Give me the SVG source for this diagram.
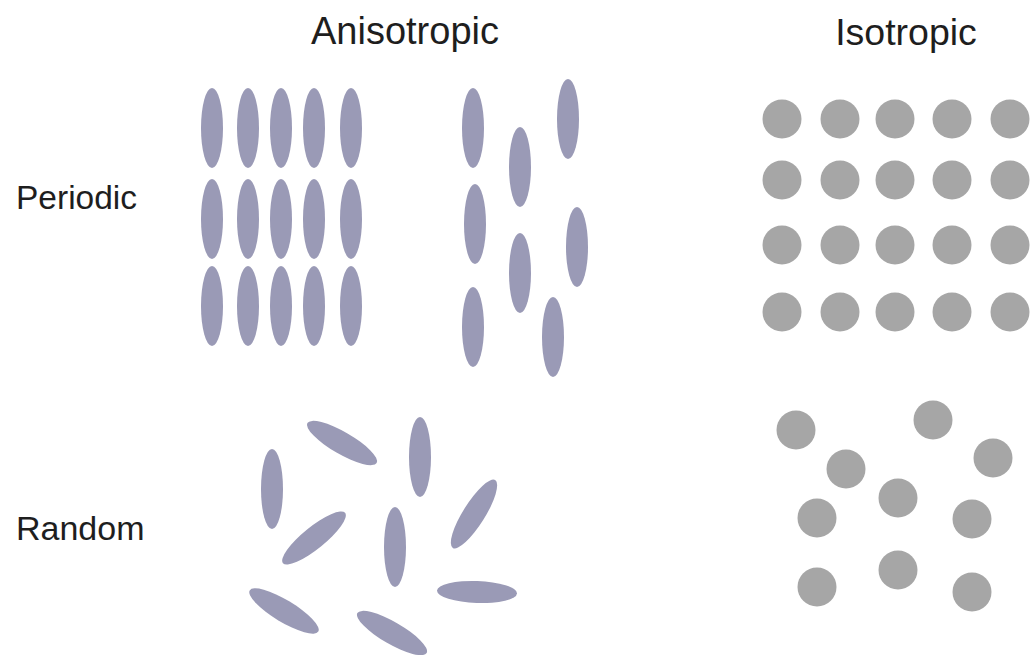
<svg xmlns="http://www.w3.org/2000/svg" width="1030" height="655" viewBox="0 0 1030 655">
<style>
.lbl{font-family:"Liberation Sans",Arial,sans-serif;fill:#1e1e1e}
.rod{fill:#9a9ab6}
.dot{fill:#a6a6a6}
</style>
<defs>
<ellipse id="rod" cx="0" cy="0" rx="11" ry="40" class="rod"/>
<circle id="dot" cx="0" cy="0" r="19.5" class="dot"/>
</defs>
<rect width="1030" height="655" fill="#ffffff"/>
<g id="labels">
<text class="lbl" x="405" y="44" font-size="38" text-anchor="middle">Anisotropic</text>
<text class="lbl" x="906" y="45" font-size="37.5" text-anchor="middle">Isotropic</text>
<text class="lbl" x="16" y="209" font-size="33.5">Periodic</text>
<text class="lbl" x="16" y="540" font-size="34">Random</text>
</g>
<g id="aniso-periodic">
<use href="#rod" x="212" y="128"/><use href="#rod" x="248" y="128"/><use href="#rod" x="281" y="128"/><use href="#rod" x="314" y="128"/><use href="#rod" x="351" y="128"/>
<use href="#rod" x="212" y="219"/><use href="#rod" x="248" y="219"/><use href="#rod" x="281" y="219"/><use href="#rod" x="314" y="219"/><use href="#rod" x="351" y="219"/>
<use href="#rod" x="212" y="306"/><use href="#rod" x="248" y="306"/><use href="#rod" x="281" y="306"/><use href="#rod" x="314" y="306"/><use href="#rod" x="351" y="306"/>
</g>
<g id="aniso-shifted">
<use href="#rod" x="473" y="128"/><use href="#rod" x="520" y="167"/><use href="#rod" x="568" y="119"/>
<use href="#rod" x="475" y="224"/><use href="#rod" x="520" y="273"/><use href="#rod" x="577" y="247"/>
<use href="#rod" x="473" y="327"/><use href="#rod" x="553" y="337"/>
</g>
<g id="aniso-random">
<use href="#rod" transform="translate(342,443) rotate(-60)"/>
<use href="#rod" x="420" y="457"/>
<use href="#rod" x="272" y="489"/>
<use href="#rod" transform="translate(314,538) rotate(51)"/>
<use href="#rod" x="395" y="547"/>
<use href="#rod" transform="translate(474,514) rotate(32)"/>
<use href="#rod" transform="translate(477,592) rotate(-88)"/>
<use href="#rod" transform="translate(284,611) rotate(-59)"/>
<use href="#rod" transform="translate(392,633) rotate(-60)"/>
</g>
<g id="iso-periodic">
<use href="#dot" x="782" y="119"/><use href="#dot" x="840" y="119"/><use href="#dot" x="895" y="119"/><use href="#dot" x="952" y="119"/><use href="#dot" x="1010" y="119"/>
<use href="#dot" x="782" y="180"/><use href="#dot" x="840" y="180"/><use href="#dot" x="895" y="180"/><use href="#dot" x="952" y="180"/><use href="#dot" x="1010" y="180"/>
<use href="#dot" x="782" y="245"/><use href="#dot" x="840" y="245"/><use href="#dot" x="895" y="245"/><use href="#dot" x="952" y="245"/><use href="#dot" x="1010" y="245"/>
<use href="#dot" x="782" y="312"/><use href="#dot" x="840" y="312"/><use href="#dot" x="895" y="312"/><use href="#dot" x="952" y="312"/><use href="#dot" x="1010" y="312"/>
</g>
<g id="iso-random">
<use href="#dot" x="796" y="430"/><use href="#dot" x="933" y="420"/><use href="#dot" x="993" y="458"/>
<use href="#dot" x="846" y="469"/><use href="#dot" x="898" y="498"/>
<use href="#dot" x="817" y="518"/><use href="#dot" x="972" y="519"/>
<use href="#dot" x="898" y="570"/><use href="#dot" x="817" y="587"/><use href="#dot" x="972" y="592"/>
</g>
<g id="connectors"/>
</svg>
